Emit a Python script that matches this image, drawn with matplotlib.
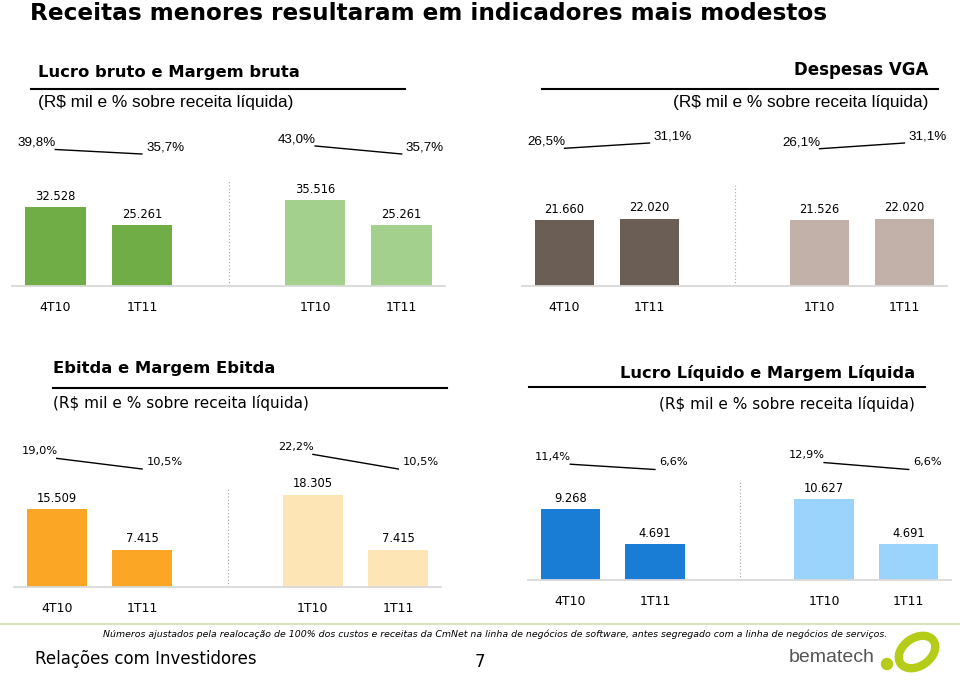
import matplotlib
matplotlib.use("Agg")
import matplotlib.pyplot as plt
from matplotlib.patches import Ellipse, Circle

# ---------------- dados ----------------
periodos = ["4T10", "1T11", "1T10", "1T11"]
posicoes = [0, 1, 3, 4]

lucro_bruto = [32528, 25261, 35516, 25261]
margem_bruta = [39.8, 35.7, 43.0, 35.7]

despesas_vga = [21660, 22020, 21526, 22020]
margem_vga = [26.5, 31.1, 26.1, 31.1]

ebitda = [15509, 7415, 18305, 7415]
margem_ebitda = [19.0, 10.5, 22.2, 10.5]

lucro_liq = [9268, 4691, 10627, 4691]
margem_liq = [11.4, 6.6, 12.9, 6.6]

W, H = 960, 681
SUB = "(R$ mil e % sobre receita líquida)"


def fmt_num(v):
    return f"{v:,}".replace(",", ".")


def fmt_pct(v):
    return f"{v:.1f}%".replace(".", ",")


def painel(fig, box, valores, margens, cores, escala, ancora, top_pont,
           pct_font="DejaVu Sans", pct_size=8.2, pct_dy=1.5):
    x0, w, top, base = box
    ax = fig.add_axes([x0 / W, 1 - base / H, w / W, (base - top) / H])
    ax.bar(posicoes, valores, width=0.7, color=cores, zorder=2)
    ax.set_xlim(-0.5, 4.5)
    ax.set_ylim(0, (base - top) / escala * 1000)
    for p, v in zip(posicoes, valores):
        ax.annotate(fmt_num(v), (p, v), xytext=(0, 3), textcoords="offset points",
                    ha="center", va="bottom", fontsize=8.3, family="DejaVu Sans")
    ax.set_xticks(posicoes, periodos)
    ax.tick_params(axis="x", length=0, pad=11, labelsize=9)
    ax.set_yticks([])
    for s in ["top", "left", "right"]:
        ax.spines[s].set_visible(False)
    ax.spines["bottom"].set_color("#d9d9d9")
    ax.spines["bottom"].set_linewidth(1.3)
    # linha pontilhada entre os pares
    frac = (base - top_pont) / (base - top)
    ax.plot([2, 2], [0, ax.get_ylim()[1] * frac], color="#a6a6a6", lw=0.8,
            ls=(0, (1, 2)), zorder=1)

    # margem
    ax2 = ax.twinx()
    s, (v0, p0) = ancora
    ax2.set_ylim(v0 - (base - p0) / s, v0 + (p0 - top) / s)
    ax2.axis("off")
    for i in (0, 2):
        xs = posicoes[i:i + 2]
        ys = margens[i:i + 2]
        ax2.plot(xs, ys, color="black", lw=1)
        ax2.annotate(fmt_pct(ys[0]), (xs[0], ys[0]), xytext=(0.5, pct_dy),
                     textcoords="offset points", ha="right", va="bottom",
                     fontsize=pct_size, family=pct_font)
        ax2.annotate(fmt_pct(ys[1]), (xs[1], ys[1]), xytext=(3, pct_dy),
                     textcoords="offset points", ha="left", va="bottom",
                     fontsize=pct_size, family=pct_font)
    return ax


def main():
    fig = plt.figure(figsize=(9.6, 6.81), dpi=100)
    bg = fig.add_axes([0, 0, 1, 1])
    bg.set_xlim(0, W)
    bg.set_ylim(H, 0)
    bg.axis("off")

    bg.text(30, 14, "Receitas menores resultaram em indicadores mais modestos",
            fontsize=16.7, fontweight="bold", va="center", ha="left")

    # cabecalhos
    bg.text(38, 72, "Lucro bruto e Margem bruta", fontsize=11.8, fontweight="bold",
            va="center")
    bg.plot([31, 405], [89, 89], color="black", lw=1.5)
    bg.text(38, 103, SUB, fontsize=12.4, family="Liberation Sans", va="center")

    bg.text(928, 70, "Despesas VGA", fontsize=12, fontweight="bold", va="center",
            ha="right")
    bg.plot([542, 938], [89, 89], color="black", lw=1.5)
    bg.text(928, 102, SUB, fontsize=12.4, family="Liberation Sans", va="center",
            ha="right")

    bg.text(53, 368, "Ebitda e Margem Ebitda", fontsize=11.75, fontweight="bold",
            va="center")
    bg.plot([53, 447], [388, 388], color="black", lw=1.5)
    bg.text(53, 403, SUB, fontsize=11, va="center")

    bg.text(915, 373, "Lucro Líquido e Margem Líquida", fontsize=11.7,
            fontweight="bold", va="center", ha="right")
    bg.plot([529, 925], [387, 387], color="black", lw=1.5)
    bg.text(915, 404, SUB, fontsize=11, va="center", ha="right")

    painel(fig, (12, 433, 120, 286), lucro_bruto, margem_bruta,
           ["#70ad47", "#70ad47", "#a3d08c", "#a3d08c"], 2.42,
           (1.1, (35.7, 154)), 181, pct_font="Liberation Sans", pct_size=9.6,
           pct_dy=0.5)
    painel(fig, (522, 425, 120, 286), despesas_vga, margem_vga,
           ["#6b5e55", "#6b5e55", "#c2b1a8", "#c2b1a8"], 3.06,
           (1.15, (31.1, 143)), 185, pct_font="Liberation Sans", pct_size=9.6,
           pct_dy=0.5)
    painel(fig, (14, 427, 430, 587), ebitda, margem_ebitda,
           ["#fba624", "#fba624", "#fee5b6", "#fee5b6"], 5.05,
           (1.25, (10.5, 469)), 487)
    painel(fig, (528, 423, 430, 580), lucro_liq, margem_liq,
           ["#1a7dd5", "#1a7dd5", "#9ad3fb", "#9ad3fb"], 7.65,
           (1.1, (6.6, 469.5)), 480)

    # rodape
    bg.plot([0, 960], [624, 624], color="#d7e4bd", lw=1.5)
    bg.text(495, 634, "Números ajustados pela realocação de 100% dos custos e receitas "
            "da CmNet na linha de negócios de software, antes segregado com a linha "
            "de negócios de serviços.", fontsize=6.75, style="italic", ha="center",
            va="center")
    bg.text(35, 659, "Relações com Investidores", fontsize=12, va="center",
            family="DejaVu Sans")
    bg.text(480, 662, "7", fontsize=12, va="center", ha="center")
    bg.text(832, 657, "bematech", fontsize=14, color="#555555", va="center",
            ha="center", family="Liberation Sans")
    bg.add_patch(Circle((887, 664), 5.5, color="#b5cc18"))
    bg.add_patch(Ellipse((917, 652), 40, 28, angle=-35, fill=False,
                         ec="#b5cc18", lw=6))

    fig.savefig("out.png", dpi=100)


if __name__ == "__main__":
    main()
